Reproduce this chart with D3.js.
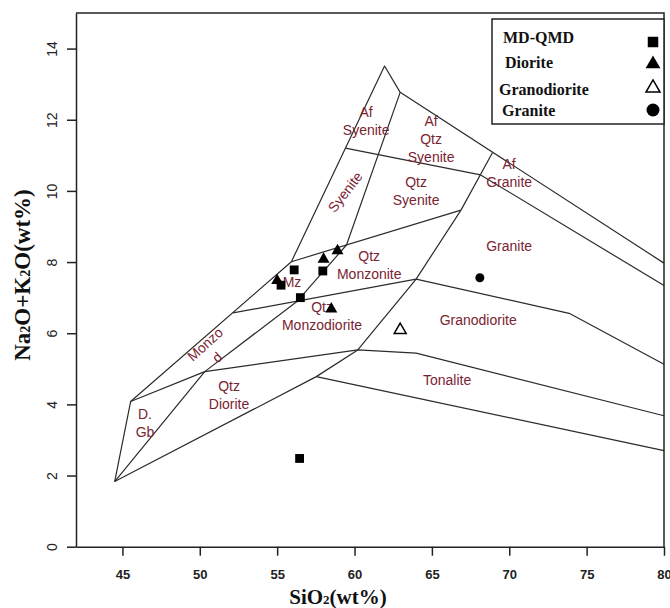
<!DOCTYPE html>
<html>
<head>
<meta charset="utf-8">
<script src="https://cdn.jsdelivr.net/npm/d3@7"></script>
<style>
  body { margin: 0; background: #fff; }
  svg { display: block; }
</style>
</head>
<body>
<svg id="chart" width="670" height="608"></svg>
<script>
// axis ticks
const xTicks = [45, 50, 55, 60, 65, 70, 75, 80];
const yTicks = [0, 2, 4, 6, 8, 10, 12, 14];

// samples (SiO2, Na2O+K2O)
const mdqmdSiO2 = [56.1, 57.95, 56.5, 55.25, 56.45];
const mdqmdAlk = [7.78, 7.75, 7.0, 7.35, 2.48];
const dioriteSiO2 = [55.0, 58.0, 58.9, 58.5];
const dioriteAlk = [7.48, 8.08, 8.32, 6.68];
const granodioriteSiO2 = [62.95];
const granodioriteAlk = [6.09];
const graniteSiO2 = [68.1];
const graniteAlk = [7.56];

const legendNames = ['MD-QMD', 'Diorite', 'Granodiorite', 'Granite'];

// field boundaries of the plutonic TAS diagram
const outerLeft = [[44.5, 1.83], [45.53, 4.08], [55.92, 8.01], [61.94, 13.51], [62.95, 12.77], [80, 7.97]];
const dioriteLine = [[44.5, 1.83], [50.32, 4.92], [56.3, 6.9], [59.48, 8.48], [62.95, 12.77]];
const syeniteBase = [[55.92, 8.01], [66.88, 9.46]];
const afLine = [[59.41, 11.2], [68.15, 10.45], [80, 7.34]];
const qtzCurve = [[44.5, 1.83], [57.53, 4.78], [60.21, 5.53], [63.98, 7.52], [66.88, 9.46], [68.92, 11.08]];
const tonaliteBase = [[57.53, 4.78], [80, 2.70]];
const tonaliteTop = [[45.53, 4.08], [50.32, 4.92], [60.21, 5.53], [63.98, 5.44], [80, 3.68]];
const graniteBase = [[52.15, 6.57], [63.98, 7.52], [73.87, 6.56], [80, 5.13]];
const boundaries = [outerLeft, dioriteLine, syeniteBase, afLine, qtzCurve, tonaliteBase, tonaliteTop, graniteBase];

// field names: lines of text, anchor (SiO2, alk), rotation
const fieldLines = [['Af', 'Syenite'], ['Af', 'Qtz', 'Syenite'], ['Syenite'], ['Qtz', 'Syenite'], ['Af', 'Granite'],
  ['Granite'], ['Qtz', 'Monzonite'], ['Mz'], ['Qtz', 'Monzodiorite'], ['Granodiorite'], ['Tonalite'],
  ['Monzo'], ['d'], ['Qtz', 'Diorite'], ['D.', 'Gb']];
const fieldX = [60.75, 64.95, 59.39, 63.98, 69.99, 69.99, 60.95, 55.96, 57.9, 67.99, 65.98, 50.34, 51.11, 51.89, 46.46];
const fieldY = [12.22, 11.96, 9.97, 10.25, 10.76, 8.45, 8.17, 7.44, 6.74, 6.37, 4.69, 5.69, 5.33, 4.52, 3.73];
const fieldRot = [0, 0, -52, 0, 0, 0, 0, 0, 0, 0, 0, -42, -42, 0, 0];

const svg = d3.select('#chart');
const x = d3.scaleLinear().domain([42, 80]).range([76, 664]);
const y = d3.scaleLinear().domain([0, 15]).range([546.7, 13]);

const line = d3.line().x(d => x(d[0])).y(d => y(d[1]));
svg.append('g')
  .selectAll('path')
  .data(boundaries)
  .join('path')
  .attr('d', line)
  .attr('fill', 'none')
  .attr('stroke', '#2e2a2a')
  .attr('stroke-width', 1.2)
  .attr('stroke-linejoin', 'round');

// field labels
const labelColor = '#7a2432';
fieldLines.forEach((lines, i) => {
  const g = svg.append('g')
    .attr('transform', `translate(${x(fieldX[i])},${y(fieldY[i])}) rotate(${fieldRot[i]})`);
  g.selectAll('text')
    .data(lines)
    .join('text')
    .attr('y', (d, j) => j * 18)
    .attr('text-anchor', 'middle')
    .attr('dominant-baseline', 'central')
    .attr('font-family', 'Liberation Sans, Arial, sans-serif')
    .attr('font-size', 14)
    .attr('fill', labelColor)
    .text(d => d);
});

// frame
svg.append('path')
  .attr('d', `M${x(42)},${y(15)}H${x(80)}V${y(0)}`)
  .attr('fill', 'none')
  .attr('stroke', '#222')
  .attr('stroke-width', 1.5);

// axes
const xAxis = svg.append('g')
  .attr('transform', `translate(0,${y(0)})`)
  .call(d3.axisBottom(x).tickValues(xTicks).tickSize(9).tickPadding(14).tickSizeOuter(0));
xAxis.selectAll('text')
  .attr('font-family', 'Liberation Sans, Arial, sans-serif')
  .attr('font-size', 13)
  .attr('font-weight', 'bold')
  .attr('fill', '#222');

const yAxis = svg.append('g')
  .attr('transform', `translate(${x(42)},0)`)
  .call(d3.axisLeft(y).tickValues(yTicks).tickSize(9).tickSizeOuter(0));
yAxis.selectAll('text')
  .attr('x', null).attr('dy', null)
  .attr('transform', 'translate(-24,0) rotate(-90)')
  .attr('text-anchor', 'middle')
  .attr('dominant-baseline', 'central')
  .attr('font-family', 'Liberation Sans, Arial, sans-serif')
  .attr('font-size', 14)
  .attr('fill', '#222');
svg.selectAll('.domain, .tick line').attr('stroke', '#222').attr('stroke-width', 1.5);

// axis titles
const xTitle = svg.append('text')
  .attr('x', 338).attr('y', 604)
  .attr('text-anchor', 'middle')
  .attr('font-family', 'Liberation Serif, Times New Roman, serif')
  .attr('font-weight', 'bold')
  .attr('font-size', 21)
  .attr('fill', '#111');
xTitle.append('tspan').text('SiO');
xTitle.append('tspan').attr('font-size', 13).text('2');
xTitle.append('tspan').text('(wt%)');

const yTitle = svg.append('text')
  .attr('transform', 'translate(30,275) rotate(-90)')
  .attr('text-anchor', 'middle')
  .attr('font-family', 'Liberation Serif, Times New Roman, serif')
  .attr('font-weight', 'bold')
  .attr('font-size', 23)
  .attr('fill', '#111');
yTitle.append('tspan').text('Na');
yTitle.append('tspan').attr('font-size', 14).text('2');
yTitle.append('tspan').text('O+K');
yTitle.append('tspan').attr('font-size', 14).text('2');
yTitle.append('tspan').text('O(wt%)');

// sample markers
const sq = d3.symbol().type(d3.symbolSquare).size(78);
const tri = d3.symbol().type(d3.symbolTriangle).size(62);
const pts = svg.append('g');
pts.selectAll('.mdqmd')
  .data(d3.zip(mdqmdSiO2, mdqmdAlk))
  .join('path')
  .attr('transform', d => `translate(${x(d[0])},${y(d[1])})`)
  .attr('d', sq)
  .attr('fill', '#000');
pts.selectAll('.dio')
  .data(d3.zip(dioriteSiO2, dioriteAlk))
  .join('path')
  .attr('transform', d => `translate(${x(d[0])},${y(d[1])})`)
  .attr('d', tri)
  .attr('fill', '#000');
pts.selectAll('.gd')
  .data(d3.zip(granodioriteSiO2, granodioriteAlk))
  .join('path')
  .attr('transform', d => `translate(${x(d[0])},${y(d[1])})`)
  .attr('d', tri)
  .attr('fill', '#fff')
  .attr('stroke', '#000')
  .attr('stroke-width', 1.5);
pts.selectAll('circle')
  .data(d3.zip(graniteSiO2, graniteAlk))
  .join('circle')
  .attr('cx', d => x(d[0]))
  .attr('cy', d => y(d[1]))
  .attr('r', 4.5)
  .attr('fill', '#000');

// legend
const legend = svg.append('g');
legend.append('rect')
  .attr('x', 492).attr('y', 19).attr('width', 172).attr('height', 105)
  .attr('fill', '#fff')
  .attr('stroke', '#222')
  .attr('stroke-width', 1.5);
const legX = [503, 505, 499, 502];
const legY = [37, 62, 89, 110];
legend.selectAll('text')
  .data(legendNames)
  .join('text')
  .attr('x', (d, i) => legX[i])
  .attr('y', (d, i) => legY[i])
  .attr('dominant-baseline', 'central')
  .attr('font-family', 'Liberation Serif, Times New Roman, serif')
  .attr('font-weight', 'bold')
  .attr('font-size', 16)
  .attr('fill', '#111')
  .text(d => d);
legend.append('path').attr('transform', 'translate(653,42)').attr('d', d3.symbol().type(d3.symbolSquare).size(110)).attr('fill', '#000');
legend.append('path').attr('transform', 'translate(653,64)').attr('d', d3.symbol().type(d3.symbolTriangle).size(95)).attr('fill', '#000');
legend.append('path').attr('transform', 'translate(653,88)').attr('d', d3.symbol().type(d3.symbolTriangle).size(85)).attr('fill', '#fff').attr('stroke', '#000').attr('stroke-width', 1.5);
legend.append('circle').attr('cx', 653).attr('cy', 110).attr('r', 6.5).attr('fill', '#000');
</script>
</body>
</html>
